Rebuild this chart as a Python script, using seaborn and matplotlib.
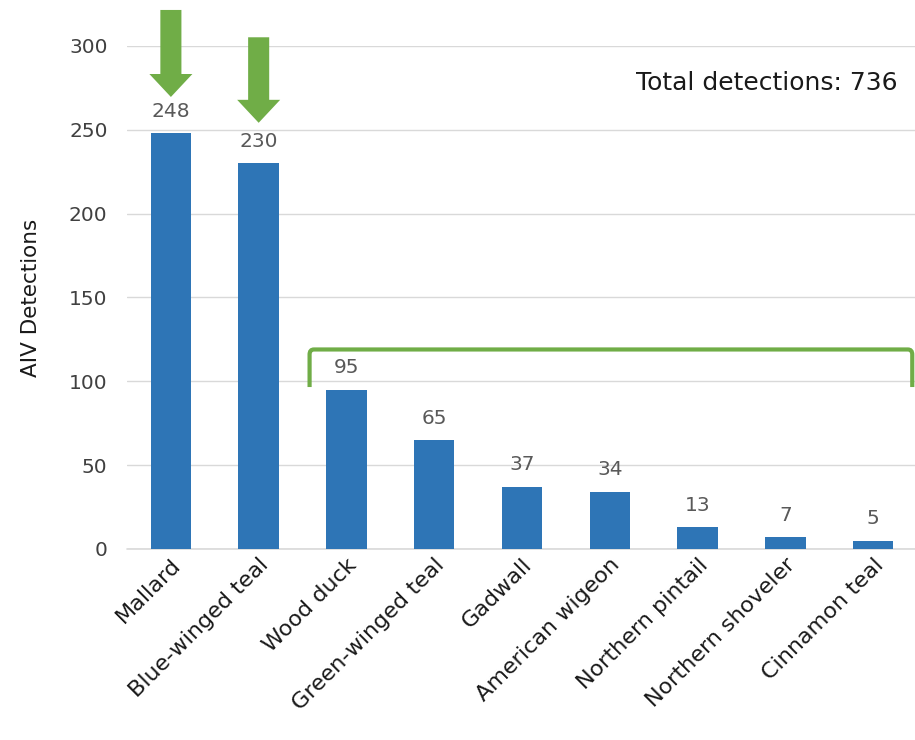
import matplotlib
matplotlib.use("Agg")
import matplotlib.pyplot as plt
import seaborn as sns
import pandas as pd
from matplotlib.patches import FancyArrow, PathPatch
from matplotlib.path import Path

species = ["Mallard", "Blue-winged teal", "Wood duck", "Green-winged teal",
           "Gadwall", "American wigeon", "Northern pintail",
           "Northern shoveler", "Cinnamon teal"]
detections = [248, 230, 95, 65, 37, 34, 13, 7, 5]
y_ticks = [0, 50, 100, 150, 200, 250, 300]
total_label = "Total detections: 736"

BLUE = "#2E75B6"
GREEN = "#70AD47"

sns.set_theme(style="white")
plt.rcParams["font.family"] = ["DejaVu Sans"]

df = pd.DataFrame({"species": species, "detections": detections})

fig = plt.figure(figsize=(9.15, 7.4), dpi=100)
ax = fig.add_axes([127 / 915, 1 - 549 / 740, (917 - 127) / 915, (549 - 46) / 740])

sns.barplot(data=df, x="species", y="detections", color=BLUE, saturation=1,
            width=0.46, linewidth=0, ax=ax)

ax.set_ylim(0, 300)
ax.set_xlim(-0.5, len(species) - 0.5)
ax.set_yticks(y_ticks)
ax.yaxis.grid(True, color="#D9D9D9", linewidth=1.0)
ax.set_axisbelow(True)
for s in ax.spines.values():
    s.set_visible(False)
# baseline drawn in full, not clipped at the axes edge
ax.axhline(0, color="#D9D9D9", linewidth=1.2, clip_on=False, zorder=0.5)

ax.tick_params(axis="y", length=0, pad=14, labelsize=14.5, labelcolor="#404040")
ax.tick_params(axis="x", length=0, pad=4, labelsize=16, labelcolor="#1a1a1a")
plt.setp(ax.get_xticklabels(), rotation=45, ha="right", rotation_mode="anchor")
ax.set_xlabel("")
ax.set_ylabel("AIV Detections", fontsize=15.5, color="#1a1a1a", labelpad=20)

ax.bar_label(ax.containers[0], labels=[str(v) for v in detections],
             padding=9, fontsize=14.5, color="#595959")

ax.text(8.28, 278, total_label, ha="right", va="center", fontsize=18,
        color="#1a1a1a")

# highlight arrows over the two dominant species
for x, top, tip in [(0, 321.5, 269.6), (1, 305.2, 254.2)]:
    ax.add_patch(FancyArrow(x, top, 0, tip - top, width=0.24, head_width=0.49,
                            head_length=13.7, length_includes_head=True,
                            color=GREEN, clip_on=False, linewidth=0))

# bracket grouping the remaining species
xl, xr, yb, yt = 1.58, 8.446, 96.6, 119.0
rx, ry = 0.05, 3.0
verts = [(xl, yb), (xl, yt - ry), (xl, yt), (xl + rx, yt),
         (xr - rx, yt), (xr, yt), (xr, yt - ry), (xr, yb)]
codes = [Path.MOVETO, Path.LINETO, Path.CURVE3, Path.CURVE3,
         Path.LINETO, Path.CURVE3, Path.CURVE3, Path.LINETO]
ax.add_patch(PathPatch(Path(verts, codes), facecolor="none", edgecolor=GREEN,
                       linewidth=3, clip_on=False, capstyle="butt"))

fig.savefig("out.png", dpi=100)
